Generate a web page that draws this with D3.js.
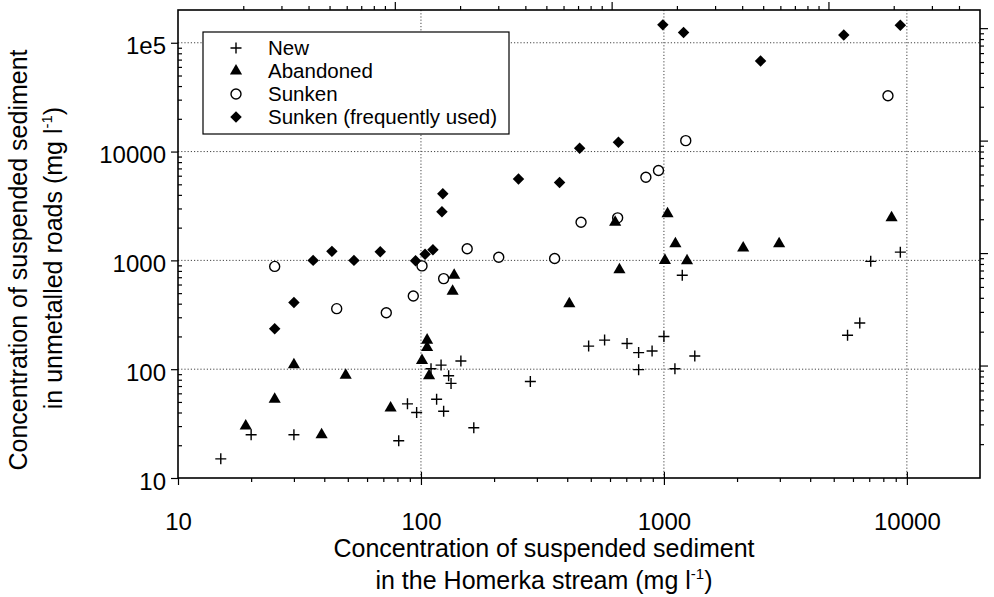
<!DOCTYPE html>
<html><head><meta charset="utf-8">
<script src="https://cdn.jsdelivr.net/npm/d3@7"></script>
<style>body{margin:0;background:#fff}svg{display:block}</style>
</head><body><svg id="c" width="994" height="597"></svg>
<script>
// ---- data (stream concentration, road concentration), mg/l ----
const newRoads = [[15,15],[20,25],[30,25],[81,22],[88,48],[96,40],[110,101],[116,53],[121,109],[124,41],[130,87],[133,74],[146,119],[165,29],[282,77],[490,163],[570,185],[705,172],[787,142],[787,99],[894,147],[1000,200],[1110,101],[1190,730],[1340,132],[5700,205],[6400,266],[7100,980],[9400,1190]];
const abandoned = [[19,30],[25,53],[30,110],[39,25],[49,88],[75,44],[101,120],[106,185],[106,158],[108,87],[137,730],[135,520],[408,400],[656,820],[630,2240],[1035,2680],[1010,1000],[1245,990],[1115,1420],[2120,1300],[2980,1420],[8650,2460]];
const sunken = [[25,880],[45,360],[72,330],[93,470],[101,890],[124,680],[155,1280],[209,1070],[355,1040],[456,2240],[645,2460],[843,5800],[950,6700],[1230,12600],[8360,32600]];
const sunkenFrequent = [[25,235],[30,410],[36,1000],[43,1210],[53,1000],[68,1200],[95,990],[104,1140],[112,1250],[122,2800],[123,4100],[252,5600],[372,5200],[450,10700],[650,12200],[990,146000],[1205,124000],[2500,68000],[5500,118000],[9400,145000]];

const xTickValues = [10,100,1000,10000];
const xTickLabels = ["10","100","1000","10000"];
const yTickValues = [10,100,1000,10000,100000];
const yTickLabels = ["10","100","1000","10000","1e5"];
const legendLabels = ["New","Abandoned","Sunken","Sunken (frequently used)"];
const xDomain = [10,20000], yDomain = [10,200000];
const topDomain = [1,5000], rightDomain = [1,14500];

const FONT = "'Liberation Sans', Arial, Helvetica, sans-serif";
const svg = d3.select("#c");
svg.append("rect").attr("width",994).attr("height",597).attr("fill","#fff");
const L=178, R=980, T=10, B=478;
const x = d3.scaleLog().domain(xDomain).range([L,R]);
const y = d3.scaleLog().domain(yDomain).range([B,T]);
const xt = d3.scaleLog().domain(topDomain).range([L,R]);
const yr = d3.scaleLog().domain(rightDomain).range([B,T]);

function isPow10(v){ const r = v/Math.pow(10,Math.floor(Math.log10(v)+1e-9)); return Math.abs(r-1)<1e-6; }
function minors(scale){
  const d = scale.domain();
  return scale.ticks(40).filter(v => !isPow10(v) && v>d[0]*1.0001 && v<d[1]*0.9999);
}
function mainTicks(scale){ return scale.ticks(40).filter(isPow10); }

// gridlines
const grid = svg.append("g").attr("stroke","#444").attr("stroke-width",1).attr("stroke-dasharray","1.2,2");
grid.selectAll("line.gx").data([100,1000,10000]).join("line")
  .attr("x1",d=>x(d)).attr("x2",d=>x(d)).attr("y1",T).attr("y2",B);
grid.selectAll("line.gy").data([100,1000,10000,100000]).join("line")
  .attr("y1",d=>y(d)).attr("y2",d=>y(d)).attr("x1",L).attr("x2",R);

function styleAxis(g){ g.select(".domain").remove(); g.selectAll("line").attr("stroke","#000").attr("stroke-width",1.2); }

// bottom axis
svg.append("g").attr("transform",`translate(0,${B})`)
  .call(d3.axisBottom(x).tickValues(xTickValues).tickSize(7).tickFormat((d,i)=>xTickLabels[i]))
  .call(styleAxis)
  .call(g=>g.selectAll("text").attr("font-family",FONT).attr("font-size",24).attr("fill","#000").attr("dy",0).attr("y",52));
svg.append("g").attr("transform",`translate(0,${B})`)
  .call(d3.axisTop(x).tickValues(xTickValues.slice(1)).tickSize(6).tickFormat("")).call(styleAxis);
svg.append("g").attr("transform",`translate(0,${B})`)
  .call(d3.axisBottom(x).tickValues(minors(x)).tickSize(4).tickFormat("")).call(styleAxis);

// left axis
svg.append("g").attr("transform",`translate(${L},0)`)
  .call(d3.axisLeft(y).tickValues(yTickValues).tickSize(7).tickFormat((d,i)=>yTickLabels[i]))
  .call(styleAxis)
  .call(g=>g.selectAll("text").attr("font-family",FONT).attr("font-size",24).attr("fill","#000").attr("dy",0).attr("x",-12).attr("y",11));
svg.append("g").attr("transform",`translate(${L},0)`)
  .call(d3.axisRight(y).tickValues(minors(y)).tickSize(4).tickFormat("")).call(styleAxis);

// top axis (secondary, unlabeled)
svg.append("g").attr("transform",`translate(0,${T})`)
  .call(d3.axisTop(xt).tickValues(mainTicks(xt).filter(v=>v>1)).tickSize(8).tickFormat("")).call(styleAxis);
svg.append("g").attr("transform",`translate(0,${T})`)
  .call(d3.axisTop(xt).tickValues(minors(xt)).tickSize(4).tickFormat("")).call(styleAxis);

// right axis (secondary, unlabeled)
svg.append("g").attr("transform",`translate(${R},0)`)
  .call(d3.axisRight(yr).tickValues(mainTicks(yr).filter(v=>v>1)).tickSize(8).tickFormat("")).call(styleAxis);
svg.append("g").attr("transform",`translate(${R},0)`)
  .call(d3.axisRight(yr).tickValues(minors(yr)).tickSize(4).tickFormat("")).call(styleAxis);

// frame
svg.append("rect").attr("x",L).attr("y",T).attr("width",R-L).attr("height",B-T)
  .attr("fill","none").attr("stroke","#000").attr("stroke-width",1.6);

// markers
const plusPath = "M-5.5,0H5.5M0,-5.5V5.5";
const triPath = d3.symbol().type(d3.symbolTriangle).size(64)();
const diaPath = d3.symbol().type(d3.symbolSquare).size(66)();
function drawNew(g,data){ g.selectAll("path").data(data).join("path").attr("d",plusPath)
  .attr("transform",d=>`translate(${x(d[0])},${y(d[1])})`).attr("stroke","#000").attr("stroke-width",1.4).attr("fill","none"); }
function drawTri(g,data){ g.selectAll("path").data(data).join("path").attr("d",triPath)
  .attr("transform",d=>`translate(${x(d[0])},${y(d[1])})`).attr("fill","#000"); }
function drawCirc(g,data){ g.selectAll("circle").data(data).join("circle").attr("cx",d=>x(d[0])).attr("cy",d=>y(d[1])).attr("r",5)
  .attr("fill","#fff").attr("stroke","#000").attr("stroke-width",1.4); }
function drawDia(g,data){ g.selectAll("path").data(data).join("path").attr("d",diaPath)
  .attr("transform",d=>`translate(${x(d[0])},${y(d[1])}) rotate(45)`).attr("fill","#000"); }
drawCirc(svg.append("g"), sunken);
drawNew(svg.append("g"), newRoads);
drawTri(svg.append("g"), abandoned);
drawDia(svg.append("g"), sunkenFrequent);

// legend
const lg = svg.append("g");
lg.append("rect").attr("x",203).attr("y",32).attr("width",306).attr("height",102).attr("fill","#fff").attr("stroke","#000").attr("stroke-width",1.2);
const rowsY = [48,71,94,117];
lg.append("path").attr("d",plusPath).attr("transform",`translate(236,${rowsY[0]})`).attr("stroke","#000").attr("stroke-width",1.4);
lg.append("path").attr("d",triPath).attr("transform",`translate(236,${rowsY[1]})`).attr("fill","#000");
lg.append("circle").attr("cx",236).attr("cy",rowsY[2]).attr("r",5).attr("fill","#fff").attr("stroke","#000").attr("stroke-width",1.4);
lg.append("path").attr("d",diaPath).attr("transform",`translate(236,${rowsY[3]}) rotate(45)`).attr("fill","#000");
lg.selectAll("text").data(legendLabels).join("text").attr("x",268).attr("y",(d,i)=>rowsY[i]+7)
  .attr("font-family",FONT).attr("font-size",20.5).attr("fill","#000").text(d=>d);

// axis titles
svg.append("text").attr("x",544).attr("y",557).attr("text-anchor","middle").attr("font-family",FONT).attr("font-size",25).attr("fill","#000")
  .text("Concentration of suspended sediment");
const xt2 = svg.append("text").attr("x",544).attr("y",589).attr("text-anchor","middle").attr("font-family",FONT).attr("font-size",25).attr("fill","#000");
xt2.append("tspan").text("in the Homerka stream (mg l");
xt2.append("tspan").attr("dy",-10).attr("font-size",15).text("-1");
xt2.append("tspan").attr("dy",10).text(")");

svg.append("text").attr("transform","translate(27,260) rotate(-90)").attr("text-anchor","middle").attr("font-family",FONT).attr("font-size",25).attr("fill","#000")
  .text("Concentration of suspended sediment");
const yt2 = svg.append("text").attr("transform","translate(62,258) rotate(-90)").attr("text-anchor","middle").attr("font-family",FONT).attr("font-size",25).attr("fill","#000");
yt2.append("tspan").text("in unmetalled roads (mg l");
yt2.append("tspan").attr("dy",-10).attr("font-size",15).text("-1");
yt2.append("tspan").attr("dy",10).text(")");
</script></body></html>
